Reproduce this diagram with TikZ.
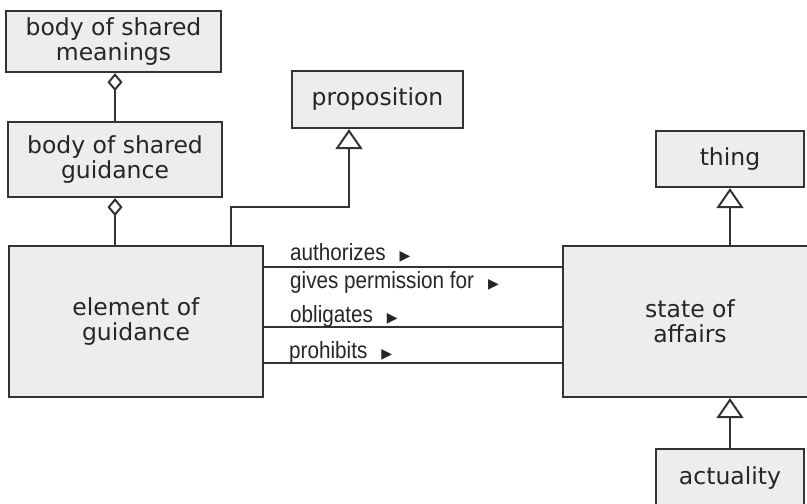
\documentclass[tikz,border=0pt]{standalone}
\usepackage{fontspec}
\setmainfont{DejaVu Sans}
\newfontfamily\lblfont{Liberation Sans}
\newfontfamily\symfont{DejaVu Sans}
\usetikzlibrary{arrows.meta}
\definecolor{boxfill}{HTML}{EDEDED}
\definecolor{boxline}{HTML}{333333}
\newcommand{\tri}{\hspace{14pt}{\fontsize{14}{14}\symfont ▶}}
\newcommand{\lbltext}[1]{\scalebox{0.88}[1]{\lblfont\fontsize{23.5}{24}\selectfont #1}}
\begin{document}
\begin{tikzpicture}[x=1pt,y=-1pt,
  cls/.style={draw=boxline,fill=boxfill,line width=2.2pt,align=center,inner sep=0pt,
    font=\fontsize{23.5}{25}\selectfont,text=black!85},
  conn/.style={draw=boxline,line width=2.2pt},
  lbl/.style={anchor=base west,inner sep=0pt,text=black!85},
  agg/.style={{Diamond[open,length=18pt,width=15pt,line width=2pt]}-},
  gen/.style={-{Triangle[open,length=20pt,width=27pt,line width=2pt]}}]
\useasboundingbox (0,0) rectangle (807,504);
\clip (0,0) rectangle (807,504);
\fill[white] (0,0) rectangle (807,504);
\node[cls,minimum width=215pt,minimum height=61pt] (m) at (113.5,41.5) {body of shared\\meanings};
\node[cls,minimum width=214pt,minimum height=75pt] (g) at (115,159.5) {body of shared\\guidance};
\node[cls,minimum width=254pt,minimum height=151pt] (e) at (136,321.5) {element of\\guidance};
\node[cls,minimum width=171pt,minimum height=57pt] (p) at (377.5,99.5) {proposition};
\node[cls,minimum width=148pt,minimum height=56pt] (t) at (730,159) {thing};
\node[cls,minimum width=254pt,minimum height=151pt] (s) at (690,321.5) {state of\\affairs};
\node[cls,minimum width=148pt,minimum height=58pt] (a) at (730,478) {actuality};
\draw[conn,agg] (m.south -| g.north) -- (g.north);
\draw[conn,agg] (g.south) -- (g.south |- e.north);
\coordinate (pj) at (231,207);
\coordinate (pk) at (349,207);
\draw[conn,gen] (e.north -| pj) -- (pj) -- (pk) -- (pk |- p.south);
\draw[conn,gen] (s.north -| t.south) -- (t.south);
\draw[conn,gen] (a.north) -- (a.north |- s.south);
\draw[conn] (e.east |- 0,267) -- (s.west |- 0,267);
\draw[conn] (e.east |- 0,327) -- (s.west |- 0,327);
\draw[conn] (e.east |- 0,363) -- (s.west |- 0,363);
\node[lbl] (l1) at (290,260) {\lbltext{authorizes}\tri};
\node[lbl] (l2) at (290,288) {\lbltext{gives permission for}\tri};
\node[lbl] (l3) at (290,322) {\lbltext{obligates}\tri};
\node[lbl] (l4) at (289,358) {\lbltext{prohibits}\tri};
\end{tikzpicture}
\end{document}
